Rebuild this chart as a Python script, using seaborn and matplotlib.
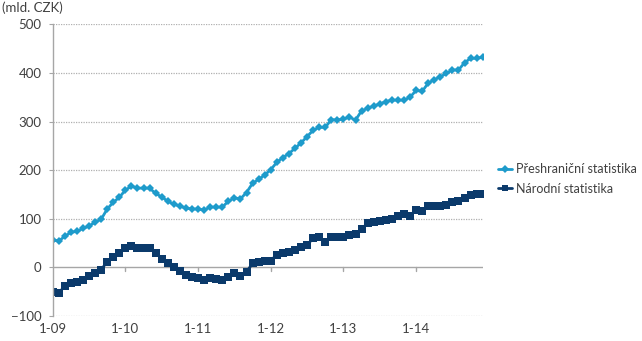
import numpy as np
import pandas as pd
import matplotlib
matplotlib.use("Agg")
import matplotlib.pyplot as plt
import seaborn as sns

# Monthly series, January 2009 - December 2014 (mld. CZK)
months = pd.period_range("2009-01", "2014-12", freq="M")
preshranicni = [57, 54, 64, 72, 74, 80, 85, 93, 99, 120,
                134, 144, 159, 167, 163, 163, 163, 152, 145, 136,
                130, 126, 122, 120, 120, 118, 124, 124, 124, 136,
                143, 141, 154, 173, 181, 190, 201, 216, 226, 234,
                245, 256, 269, 282, 288, 288, 304, 303, 305, 309,
                303, 322, 327, 332, 336, 341, 344, 344, 344, 350,
                364, 362, 379, 386, 392, 399, 406, 406, 421, 430,
                430, 432]
narodni = [-50, -52, -39, -32, -30, -25, -18, -11, -5, 12,
           21, 30, 39, 44, 39, 39, 39, 30, 18, 9,
           0, -8, -15, -20, -22, -26, -22, -24, -26, -19,
           -12, -18, -9, 8, 12, 13, 14, 26, 30, 32,
           36, 41, 46, 60, 63, 53, 62, 63, 62, 67,
           69, 79, 91, 94, 96, 98, 99, 106, 110, 106,
           119, 115, 126, 126, 126, 129, 134, 136, 143, 148,
           150, 150]
series_names = ["Přeshraniční statistika", "Národní statistika"]
series_colors = ["#1E9BCB", "#0B3A6B"]
series_markers = ["D", "s"]
y_ticks = [-100, 0, 100, 200, 300, 400, 500]
x_tick_idx = [0, 12, 24, 36, 48, 60]
x_tick_labels = [f"{m.month}-{m.year % 100:02d}" for m in months[x_tick_idx]]

df = pd.DataFrame({
    "idx": np.tile(np.arange(len(months)), 2),
    "value": preshranicni + narodni,
    "series": np.repeat(series_names, len(months)),
})

sns.set_theme(style="white")
plt.rcParams["font.family"] = ["Lato", "DejaVu Sans"]
text_color = "#404040"

fig = plt.figure(figsize=(6.42, 3.41), dpi=100)
ax = fig.add_axes([52.7 / 642, 1 - 316 / 341, 430 / 642, (316 - 24.3) / 341])

sns.lineplot(data=df, x="idx", y="value", hue="series", style="series",
             hue_order=series_names, style_order=series_names,
             palette=series_colors, markers=series_markers, dashes=False,
             linewidth=2, markersize=4.5, markeredgewidth=0, ax=ax)

# marker sizes differ per series
for line, ms in zip(ax.get_lines()[:2], [4.4, 5.4]):
    line.set_markersize(ms)

ax.set_xlim(0, len(months) - 1)
ax.set_ylim(-100, 500)
ax.set_yticks(y_ticks)
ax.set_xticks(x_tick_idx)
ax.set_xticklabels(x_tick_labels)
ax.set_xlabel("")
ax.set_ylabel("")

for s in ["top", "right", "bottom"]:
    ax.spines[s].set_visible(False)
ax.spines["left"].set_color("#A6A6A6")
ax.spines["left"].set_linewidth(1)

for y in y_ticks:
    if y == 0:
        ax.axhline(0, color="#A6A6A6", lw=1, zorder=1)
    else:
        ax.axhline(y, color="#B0B0B0", lw=0.9, ls=(0, (1, 1)), zorder=1)

# category tick marks on the zero line
for xi in x_tick_idx[1:]:
    ax.plot([xi, xi], [0, -8], color="#A6A6A6", lw=1, zorder=1)

ax.tick_params(axis="y", left=True, length=3, width=0.8, color="#A6A6A6",
               pad=5, labelsize=9.5, labelcolor=text_color)
ax.tick_params(axis="x", bottom=True, length=0, pad=5, labelsize=9.5,
               labelcolor=text_color)

leg = ax.legend(loc="center left", frameon=False,
                fontsize=9, handlelength=1.1, handletextpad=0.3,
                labelspacing=0.6, borderaxespad=0.0)
for t in leg.get_texts():
    t.set_color(text_color)
leg.set_bbox_to_anchor((1.025, 0.47), transform=ax.transAxes)

fig.text(0.003, 1 - 12 / 341, "(mld. CZK)", fontsize=9.5, color=text_color,
         va="baseline", ha="left")

fig.savefig("out.png", dpi=100, facecolor="white")
